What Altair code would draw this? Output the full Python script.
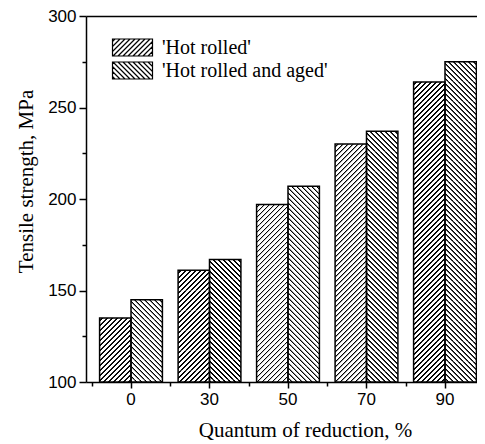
import altair as alt

# ---- data ----
reductions = ["0", "30", "50", "70", "90"]
series = ["Hot rolled", "Hot rolled and aged"]
hot_rolled = [135, 161, 197, 230, 264]
hot_rolled_aged = [145, 167, 207, 237, 275]

# ---- layout ----
W, H = 391, 366
Y_MIN, Y_MAX = 100, 300
N = len(reductions)
P_IN = 0.2
STEP = 78.5
FIRST_CENTER = 45
P_OUT = (W / STEP - (N - P_IN)) / 2
ALIGN = (FIRST_CENTER - STEP * (1 - P_IN) / 2) / (W - STEP * (N - P_IN))
BAR_W = STEP * (1 - P_IN) / 2

HATCH_P = 5.0    # hatch period along x+y (px)
HATCH_CORE = 1.0  # fully black part of a hatch line along x+y (px)
HATCH_EDGE = 0.5  # soft edge on each side (px)
SEG_PX = 4 * HATCH_P          # hatch tiles are stacked in slices of this pixel height
SEG_VAL = SEG_PX * (Y_MAX - Y_MIN) / H


def hatch_gradient(h, forward):
    """45-degree hatch as a linear gradient over a w x h box (t spans 0..1)."""
    w = BAR_W
    k = h / w
    m = (w + h) * w / (w * w + h * h)
    if forward:
        x1, y1, x2, y2 = 0, 0, m, m * k
    else:
        x1, y1, x2, y2 = 1, 0, 1 - m, m * k
    total = w + h
    stops = [{"offset": 0, "color": "white"}]
    c = HATCH_P / 2
    while c < total:
        pts = [(c - HATCH_EDGE, "white"), (c, "black"),
               (c + HATCH_CORE, "black"), (c + HATCH_CORE + HATCH_EDGE, "white")]
        for pos, col in pts:
            stops.append({"offset": max(0.0, min(pos / total, 1.0)), "color": col})
        c += HATCH_P
    stops.append({"offset": 1, "color": "white"})
    return {"gradient": "linear", "x1": x1, "y1": y1, "x2": x2, "y2": y2, "stops": stops}


bar_rows = []
seg_rows = []
for i, r in enumerate(reductions):
    for s, vals, fwd in [(series[0], hot_rolled, True), (series[1], hot_rolled_aged, False)]:
        v = vals[i]
        bar_rows.append({"reduction": r, "series": s, "value": v})
        top = v
        while top - SEG_VAL > Y_MIN:
            seg_rows.append({"reduction": r, "series": s, "top": top, "bottom": top - SEG_VAL,
                             "grad": hatch_gradient(SEG_PX, fwd)})
            top -= SEG_VAL
        seg_rows.append({"reduction": r, "series": s, "top": top, "bottom": Y_MIN,
                         "grad": hatch_gradient((top - Y_MIN) / (Y_MAX - Y_MIN) * H, fwd)})

bar_data = alt.Data(values=bar_rows)
seg_data = alt.Data(values=seg_rows)

# legend swatch: 40 x 17 px rectangle with 45-degree hatching
SYM_S = 21.0               # sqrt(symbolSize)
UNIT = SYM_S / 2           # px per path unit


def legend_path(forward, half_w_px=20.0, half_h_px=8.5, period_px=5.0):
    hw = half_w_px / UNIT
    hh = half_h_px / UNIT
    p = period_px / UNIT
    parts = [f"M{-hw:.3f},{-hh:.3f}H{hw:.3f}V{hh:.3f}H{-hw:.3f}Z"]
    c = -hw - hh + p / 2
    while c < hw + hh:
        xa = max(-hw, c - hh)
        xb = min(hw, c + hh)
        if xb - xa > 0.02:
            if forward:
                ya, yb = c - xa, c - xb
            else:
                ya, yb = xa - c, xb - c
            parts.append(f"M{xa:.3f},{ya:.3f}L{xb:.3f},{yb:.3f}")
        c += p
    return "".join(parts)


path_f = legend_path(True)
path_b = legend_path(False)

x_scale = alt.Scale(paddingInner=P_IN, paddingOuter=P_OUT, align=ALIGN)
y_scale = alt.Scale(domain=[Y_MIN, Y_MAX], nice=False, zero=False)
x_off = alt.XOffset("series:N", sort=series, scale=alt.Scale(paddingInner=0, paddingOuter=0))

y_axis = alt.Axis(title="Tensile strength, MPa",
                  values=list(range(100, 301, 25)),
                  labelExpr="datum.value % 50 === 0 ? datum.label : ''",
                  labelFont="Liberation Sans", labelFontSize=17, labelColor="black",
                  labelPadding=3,
                  tickSize={"condition": {"test": "datum.value % 50 === 0", "value": 7}, "value": 4},
                  tickWidth=1.5, tickColor="black",
                  domainColor="black", domainWidth=1.5, grid=False,
                  titleFont="Liberation Serif", titleFontSize=21, titleFontWeight="normal",
                  titleColor="black", titleBaseline="alphabetic",
                  titleX=-54, titleY=165)

hatch = alt.Chart(seg_data).mark_bar(strokeWidth=0).encode(
    x=alt.X("reduction:N", sort=reductions, scale=x_scale, axis=None),
    xOffset=x_off,
    y=alt.Y("top:Q", scale=y_scale, axis=y_axis),
    y2="bottom:Q",
    fill=alt.Fill("grad:N", scale=None),
)

outline = alt.Chart(bar_data).mark_bar(strokeWidth=1.5, stroke="black", fillOpacity=0).encode(
    x=alt.X("reduction:N", sort=reductions, scale=x_scale,
            axis=alt.Axis(title="Quantum of reduction, %", labelAngle=0,
                          labelFont="Liberation Sans", labelFontSize=17, labelColor="black",
                          labelPadding=3, tickSize=6, tickWidth=1.5, tickColor="black",
                          domainColor="black", domainWidth=1.5,
                          titleFont="Liberation Serif", titleFontSize=21, titleFontWeight="normal",
                          titleColor="black", titleBaseline="alphabetic",
                          titleX=219, titleY=54)),
    xOffset=x_off,
    y=alt.Y("value:Q", scale=y_scale, axis=y_axis),
    y2=alt.datum(Y_MIN),
)

minor_ticks = alt.Chart(bar_data).mark_point(opacity=0, filled=False, color="black",
                                             strokeWidth=1.2).encode(
    x=alt.X("reduction:N", sort=reductions, scale=x_scale,
            axis=alt.Axis(orient="bottom", labels=False, domain=False, title=None,
                          tickSize=4, tickWidth=1.5, tickColor="black",
                          tickOffset=-STEP / 2)),
    shape=alt.Shape("series:N", sort=series,
                    scale=alt.Scale(domain=series, range=[path_f, path_b]),
                    legend=alt.Legend(
                        title=None, orient="none", legendX=26, legendY=20,
                        padding=0, symbolSize=SYM_S * SYM_S, symbolStrokeWidth=1.2,
                        symbolStrokeColor="black", symbolOpacity=1, symbolOffset=9,
                        labelFont="Liberation Serif", labelFontSize=20, labelColor="black",
                        labelOffset=18, labelLimit=0, rowPadding=0,
                        labelExpr="\"'\" + datum.label + \"'\"")),
)

top_axis = alt.Chart(bar_data).mark_point(opacity=0).encode(
    x=alt.X("reduction:N", sort=reductions, scale=x_scale,
            axis=alt.Axis(orient="top", labels=False, ticks=False, title=None,
                          domain=True, domainColor="black", domainWidth=1.5)),
)

chart = alt.layer(hatch, outline, minor_ticks, top_axis).resolve_axis(x="independent").properties(
    width=W, height=H,
    autosize=alt.AutoSizeParams(type="none"),
    padding={"left": 78, "top": 8, "right": 0, "bottom": 60},
    background="white",
).configure_view(stroke=None).configure_legend(labelFont="Liberation Serif")

chart.save("out.html", embed_options={"renderer": "svg", "actions": False})
